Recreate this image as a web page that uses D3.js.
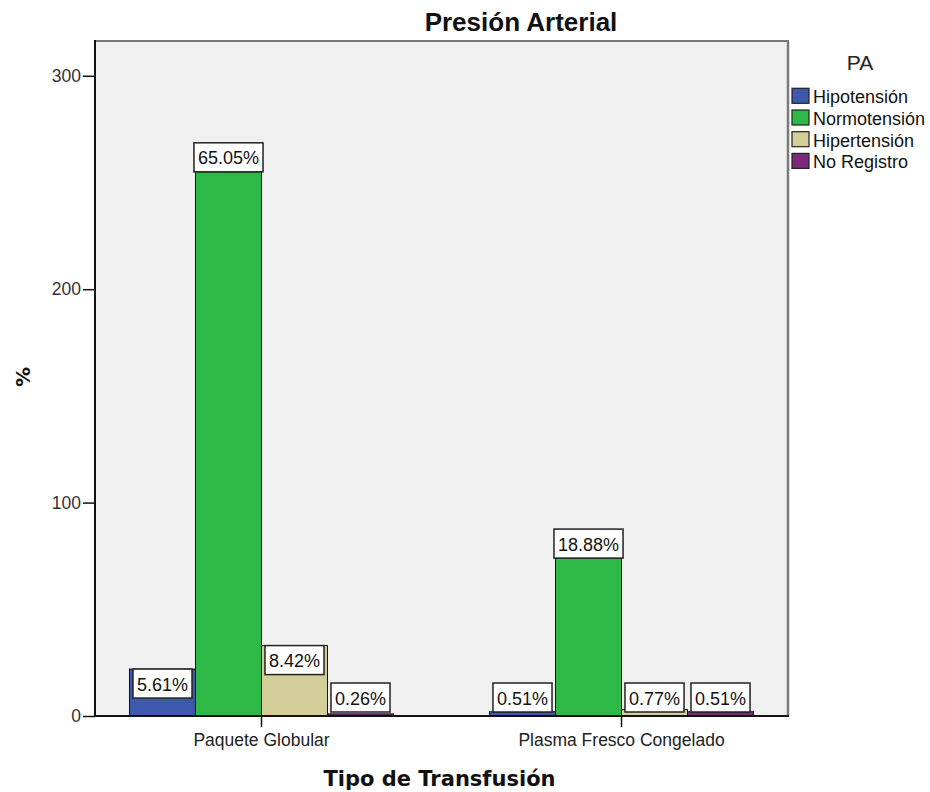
<!DOCTYPE html>
<html><head><meta charset="utf-8">
<script src="https://cdn.jsdelivr.net/npm/d3@7"></script>
<style>body{margin:0;background:#fff}</style>
</head><body><svg id="c" width="930" height="792"></svg>
<script>
const categories = ["Paquete Globular", "Plasma Fresco Congelado"];
const seriesNames = ["Hipotensión", "Normotensión", "Hipertensión", "No Registro"];
const hipotension = [22, 2];
const normotension = [255, 74];
const hipertension = [33, 3];
const noRegistro = [1, 2];
const seriesColors = ["#3e58ac", "#2eb848", "#d3ce97", "#7c287d"];
const yTicks = [0, 100, 200, 300];
const yMax = 316.3;

const seriesValues = [hipotension, normotension, hipertension, noRegistro];
const total = d3.sum(seriesValues.flat());
const fmt = d3.format(".2%");

const svg = d3.select("#c");
const L = 95, R = 788, T = 41, B = 716;

const x = d3.scaleBand().domain(categories).range([L, R]).paddingInner(0.2667).paddingOuter(0.0958);
const xs = d3.scaleBand().domain(seriesNames).range([0, x.bandwidth()]);
const y = d3.scaleLinear().domain([0, yMax]).range([B, T]);

// plot background
svg.append("rect").attr("x", L).attr("y", T).attr("width", R - L).attr("height", B - T).attr("fill", "#f0f0f0");
svg.append("line").attr("x1", L).attr("x2", R + 1).attr("y1", T).attr("y2", T).attr("stroke", "#7a7a7a").attr("stroke-width", 2);
svg.append("line").attr("x1", R).attr("x2", R).attr("y1", T).attr("y2", B).attr("stroke", "#7a7a7a").attr("stroke-width", 2.5);

const data = [];
categories.forEach((c, ci) => {
  seriesNames.forEach((s, si) => {
    data.push({cat: c, ser: s, v: seriesValues[si][ci], color: seriesColors[si]});
  });
});

const g = svg.append("g");
g.selectAll("rect.bar").data(data).enter().append("rect")
  .attr("class", "bar")
  .attr("x", d => x(d.cat) + xs(d.ser))
  .attr("y", d => y(d.v))
  .attr("width", xs.bandwidth())
  .attr("height", d => y(0) - y(d.v))
  .attr("fill", d => d.color)
  .attr("stroke", "#111").attr("stroke-width", 1);

// axes
const yAxis = svg.append("g").attr("transform", `translate(${L},0)`)
  .call(d3.axisLeft(y).tickValues(yTicks).tickSize(12).tickPadding(2).tickFormat(d3.format("d")));
yAxis.select(".domain").remove();
yAxis.selectAll(".tick line").attr("stroke", "#111").attr("stroke-width", 1.5);
yAxis.selectAll(".tick text").attr("font-family", "Liberation Sans, Arial, sans-serif").attr("font-size", "17.5px").attr("fill", "#333");

const xAxis = svg.append("g").attr("transform", `translate(0,${B})`)
  .call(d3.axisBottom(x).tickSize(11).tickPadding(7));
xAxis.select(".domain").remove();
xAxis.selectAll(".tick line").attr("stroke", "#111").attr("stroke-width", 1.5);
xAxis.selectAll(".tick text").attr("font-family", "Liberation Sans, Arial, sans-serif").attr("font-size", "17.5px").attr("fill", "#222");

svg.append("line").attr("x1", L).attr("x2", L).attr("y1", T - 1).attr("y2", B).attr("stroke", "#111").attr("stroke-width", 2);
svg.append("line").attr("x1", L).attr("x2", R + 1).attr("y1", B).attr("y2", B).attr("stroke", "#111").attr("stroke-width", 2);

// value labels
const boxH = 29;
const lg = svg.append("g");
data.forEach(d => {
  const cx = x(d.cat) + xs(d.ser) + xs.bandwidth() / 2;
  const barTop = y(d.v);
  const barH = y(0) - barTop;
  let top;
  if (d.v > 50) top = barTop - boxH;
  else if (barH >= boxH) top = barTop;
  else top = y(0) - 4 - boxH;
  const grp = lg.append("g");
  const rect = grp.append("rect").attr("y", top).attr("height", boxH)
    .attr("fill", "#fff").attr("stroke", "#222").attr("stroke-width", 1.5);
  const t = grp.append("text").attr("x", cx).attr("y", top + 21.5)
    .attr("text-anchor", "middle")
    .attr("font-family", "Liberation Sans, Arial, sans-serif").attr("font-size", "18px").attr("fill", "#111")
    .text(fmt(d.v / total));
  const w = t.node().getComputedTextLength() + 8;
  rect.attr("x", cx - w / 2).attr("width", w);
});

// title
svg.append("text").attr("x", 521).attr("y", 31).attr("text-anchor", "middle")
  .attr("font-family", "Liberation Sans, Arial, sans-serif").attr("font-weight", "bold").attr("font-size", "26px").attr("fill", "#111")
  .text("Presión Arterial");

// axis titles
svg.append("text").attr("x", (L + R) / 2 - 2).attr("y", 786).attr("text-anchor", "middle")
  .attr("font-family", "DejaVu Sans, sans-serif").attr("font-weight", "bold").attr("font-size", "21px").attr("fill", "#111")
  .text("Tipo de Transfusión");
svg.append("text").attr("transform", "translate(30,377) rotate(-90)").attr("text-anchor", "middle")
  .attr("font-family", "DejaVu Sans, sans-serif").attr("font-weight", "bold").attr("font-size", "20px").attr("fill", "#111")
  .text("%");

// legend
svg.append("text").attr("x", 860).attr("y", 70).attr("text-anchor", "middle")
  .attr("font-family", "Liberation Sans, Arial, sans-serif").attr("font-size", "21px").attr("fill", "#222")
  .text("PA");
const leg = svg.append("g");
seriesNames.forEach((s, i) => {
  const base = 103.3 + i * 21.7;
  leg.append("rect").attr("x", 792).attr("y", base - 15).attr("width", 17).attr("height", 15)
    .attr("fill", seriesColors[i]).attr("stroke", "#222").attr("stroke-width", 1.2);
  leg.append("text").attr("x", 813).attr("y", base)
    .attr("font-family", "Liberation Sans, Arial, sans-serif").attr("font-size", "18px").attr("fill", "#111")
    .text(s);
});
</script>
</body></html>
